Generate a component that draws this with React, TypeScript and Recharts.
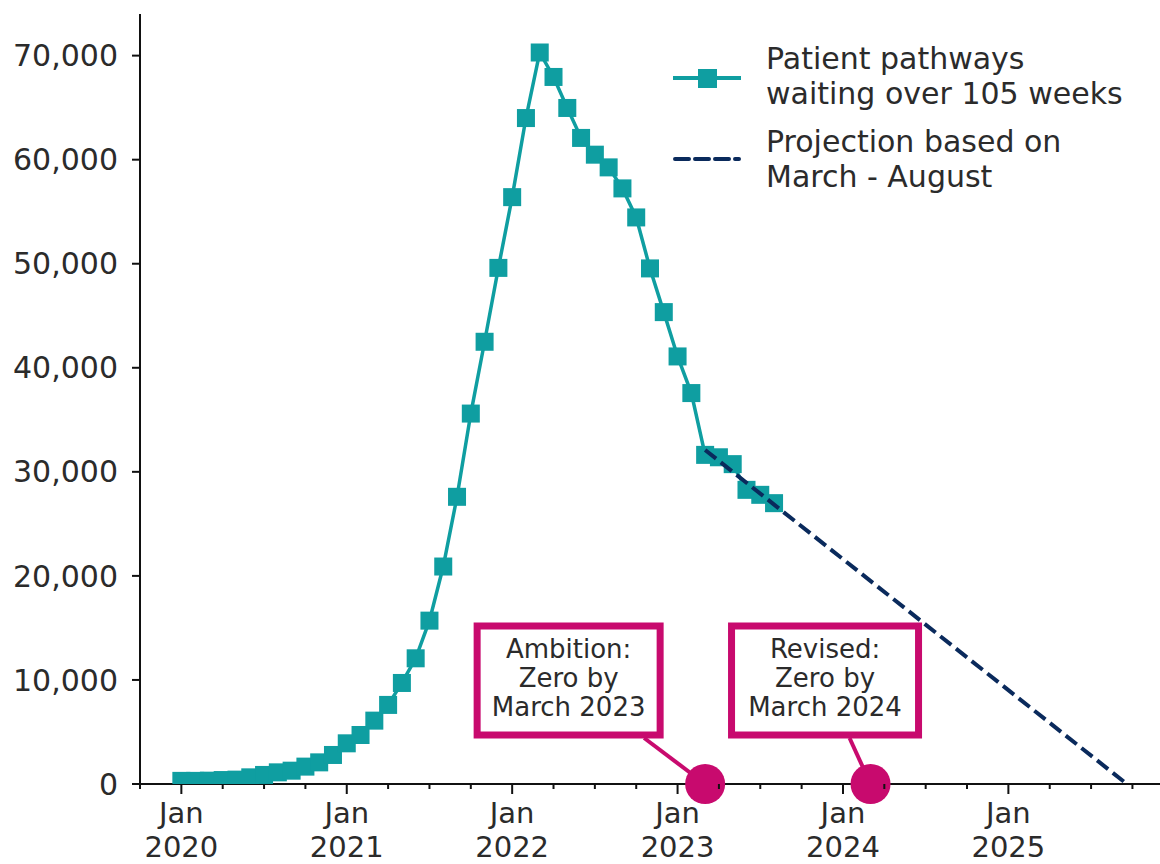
import { LineChart, Line, XAxis, YAxis, Legend, ReferenceDot } from 'recharts';

// month index 0 = Jan 2020
const months = [
	0, 1, 2, 3, 4, 5, 6, 7, 8, 9, 10, 11, 12, 13, 14, 15, 16, 17, 18, 19, 20, 21,
	22, 23, 24, 25, 26, 27, 28, 29, 30, 31, 32, 33, 34, 35, 36, 37, 38, 39, 40,
	41, 42, 43
];
const waiting = [
	300, 300, 320, 380, 420, 640, 870, 1120, 1280, 1670, 2080, 2790, 3910, 4710,
	6090, 7600, 9710, 12080, 15700, 20900, 27600, 35600, 42500, 49600, 56400,
	64000, 70300, 67950, 64970, 62090, 60480, 59260, 57240, 54450, 49550, 45350,
	41090, 37570, 31630, 31400, 30740, 28270, 27790, 26990
];
const projectionMonths = [38, 68.6];
const projectionValues = [32100, 0];

const xTicks = [
	-3, 0, 3, 6, 9, 12, 15, 18, 21, 24, 27, 30, 33, 36, 39, 42, 45, 48, 51, 54,
	57, 60, 63, 66, 69
];
const yearLabels = ['2020', '2021', '2022', '2023', '2024', '2025'];
const yTicks = [0, 10000, 20000, 30000, 40000, 50000, 60000, 70000];

const calloutMonths = [38, 50];
const calloutText = [
	['Ambition:', 'Zero by', 'March 2023'],
	['Revised:', 'Zero by', 'March 2024']
];

const TEAL = '#0f9ea1';
const NAVY = '#0a2a5c';
const PINK = '#c80a6e';
const TEXT = '#2b2b2b';

const actual = months.map((m, i) => ({ m, v: waiting[i] }));
const projection = projectionMonths.map((m, i) => ({ m, v: projectionValues[i] }));

const SquareDot = (props: any) => {
	const { cx, cy, index } = props;
	if (cx == null || cy == null) return <g key={index} />;
	return <rect key={index} x={cx - 9} y={cy - 9} width={18} height={18} fill={TEAL} />;
};

const MonthTick = (props: any) => {
	const { x, y, payload } = props;
	const m = payload.value;
	const isJan = m >= 0 && m % 12 === 0;
	return (
		<g>
			<line x1={x} x2={x} y1={y} y2={y + (isJan ? 10 : 5)} stroke='#111' strokeWidth={2} />
			{isJan && (
				<text x={x} y={y} textAnchor='middle' fontSize={29} fill={TEXT}>
					<tspan x={x} dy={39}>Jan</tspan>
					<tspan x={x} dy={34}>{yearLabels[m / 12]}</tspan>
				</text>
			)}
		</g>
	);
};

// box edges are offsets from the dot it points at
const boxes = [
	{ left: -228, right: -45, ptr: -61 },
	{ left: -139, right: 48, ptr: -21 }
];

const makeCallout = (k: number) => (props: any) => {
	const { cx, cy } = props;
	const b = boxes[k];
	const mid = cx + (b.left + b.right) / 2;
	return (
		<g>
			<line x1={cx + b.ptr} y1={cy - 46} x2={cx} y2={cy} stroke={PINK} strokeWidth={4} />
			<rect
				x={cx + b.left}
				y={cy - 158}
				width={b.right - b.left}
				height={109}
				fill='#fff'
				stroke={PINK}
				strokeWidth={7}
			/>
			{calloutText[k].map((t, i) => (
				<text key={t} x={mid} y={cy - 126 + i * 29} textAnchor='middle' fontSize={26} fill={TEXT}>
					{t}
				</text>
			))}
			<circle cx={cx} cy={cy} r={20} fill={PINK} />
		</g>
	);
};

const LegendBox = () => (
	<svg width={500} height={170} style={{ display: 'block' }}>
		<line x1={13} x2={81} y1={48} y2={48} stroke={TEAL} strokeWidth={4} />
		<rect x={38} y={39} width={19} height={19} fill={TEAL} />
		<line
			x1={15}
			x2={79}
			y1={129}
			y2={129}
			stroke={NAVY}
			strokeWidth={4}
			strokeDasharray='14 6'
			strokeLinecap='round'
		/>
		<text fontSize={30} fill={TEXT}>
			<tspan x={106} y={39}>Patient pathways</tspan>
			<tspan x={106} y={74}>waiting over 105 weeks</tspan>
			<tspan x={106} y={122}>Projection based on</tspan>
			<tspan x={106} y={157}>March - August</tspan>
		</text>
	</svg>
);

const App = () => {
	return (
		<div style={{ position: 'absolute', left: 0, top: 0, background: '#fff', fontFamily: 'DejaVu Sans' }}>
			<LineChart width={1160} height={864} margin={{ top: 14, right: 0, bottom: 0, left: 0 }}>
				<XAxis
					dataKey='m'
					type='number'
					domain={[-3, 71]}
					ticks={xTicks}
					interval={0}
					allowDataOverflow
					axisLine={{ stroke: '#111', strokeWidth: 2 }}
					tickLine={false}
					tickSize={0}
					tickMargin={0}
					tick={<MonthTick />}
					height={80}
				/>
				<YAxis
					type='number'
					domain={[0, 74000]}
					ticks={yTicks}
					interval={0}
					allowDataOverflow
					width={140}
					axisLine={{ stroke: '#111', strokeWidth: 2 }}
					tickLine={{ stroke: '#111', strokeWidth: 2 }}
					tickSize={8}
					tickMargin={14}
					tick={{ fontSize: 30, fill: TEXT }}
					tickFormatter={(v: number) => v.toLocaleString('en-US')}
				/>
				<Legend
					layout='vertical'
					align='center'
					verticalAlign='middle'
					wrapperStyle={{ top: 30, left: 660, width: 500 }}
					content={() => <LegendBox />}
				/>
				<Line
					data={actual}
					dataKey='v'
					stroke={TEAL}
					strokeWidth={3.5}
					dot={<SquareDot />}
					activeDot={false}
					isAnimationActive={false}
				/>
				<Line
					data={projection}
					dataKey='v'
					stroke={NAVY}
					strokeWidth={4}
					strokeDasharray='14 6'
					dot={false}
					activeDot={false}
					zIndex={900}
					isAnimationActive={false}
				/>
				{calloutMonths.map((m, k) => (
					<ReferenceDot key={m} x={m} y={0} r={20} ifOverflow='visible' shape={makeCallout(k)} />
				))}
			</LineChart>
		</div>
	);
};

export default App;
